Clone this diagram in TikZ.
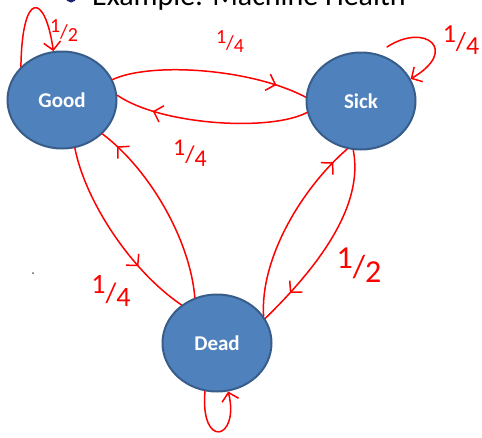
\documentclass[tikz,border=0pt]{standalone}
\usepackage{fontspec}
\setmainfont{Carlito}
\usetikzlibrary{shapes.geometric,arrows.meta,decorations.markings}
\definecolor{nodefill}{HTML}{4F81BD}
\definecolor{nodeline}{HTML}{385D8A}
\definecolor{ink}{HTML}{FF0000}
\definecolor{bulletc}{HTML}{1F1F6F}
\newcommand{\hfr}[2]{\raisebox{0.3em}{#1}/\raisebox{-0.15em}{#2}}
\begin{document}
\begin{tikzpicture}[x=1pt,y=-1pt,
 state/.style={ellipse, draw=nodeline, line width=2pt, fill=nodefill, minimum width=109pt, minimum height=97pt, inner sep=0pt, text=white, font=\fontsize{21}{21}\selectfont\bfseries},
 pen/.style={draw=ink, color=ink, line width=1.5pt, line cap=round, line join=round},
 tip/.style={-{Straight Barb[length=8pt,width=17pt]}},
 midtip/.style={postaction={decorate}, decoration={markings, mark=at position #1 with {\arrow[ink]{Straight Barb[length=8pt,width=17pt]}}}},
 lbl/.style={text=ink, inner sep=0pt, font=\fontsize{#1}{#1}\selectfont}
]
\useasboundingbox (0,0) rectangle (482,437);
\node[circle, fill=bulletc, minimum size=11pt, inner sep=0pt] (bullet) at (71,-3) {};
\node[anchor=base west, inner sep=0pt, font=\fontsize{30}{30}\selectfont, text=black] (title) at (92,5) {Example: Machine Health};
\node[circle, fill=gray!70!black, minimum size=2pt, inner sep=0pt] (dot) at (33,273) {};

\node[state] (good) at (62,100) {Good};
\node[state] (sick) at (361,101) {Sick};
\node[state] (dead) at (217,343) {Dead};

\draw[pen, midtip=0.84] (good.22) .. controls (150,62) and (250,68) .. (sick.176);
\draw[pen, midtip=0.8] (sick.192) .. controls (270,132) and (160,125) .. (good.5);
\draw[pen, midtip=0.7] (good.285) .. controls (85,200) and (130,270) .. (dead.133);
\draw[pen, midtip=0.9] (dead.116) .. controls (190,240) and (150,170) .. (good.320);
\draw[pen, midtip=0.82] (sick.261) .. controls (364,205) and (320,265) .. (dead.27);
\draw[pen, midtip=0.9] (dead.30) .. controls (260,260) and (300,190) .. (sick.254);

\coordinate (sickloop) at (387,47);
\draw[pen, tip] (sickloop) .. controls (425,22) and (460,50) .. (sick.24);
\draw[pen, tip] (good.141) .. controls (22,-10) and (45,-8) .. (good.100);
\draw[pen, tip] (dead.256) .. controls (200,450) and (240,440) .. (dead.283);

\node[lbl=20] (l1) at (64,31) {\hfr12};
\node[lbl=20] (l2) at (230,42) {\hfr14};
\node[lbl=26] (l3) at (461,40) {\hfr14};
\node[lbl=24] (l4) at (190,153) {\hfr14};
\node[lbl=28] (l5) at (111,291) {\hfr14};
\node[lbl=32] (l6) at (359,265) {\hfr12};
\end{tikzpicture}
\end{document}
